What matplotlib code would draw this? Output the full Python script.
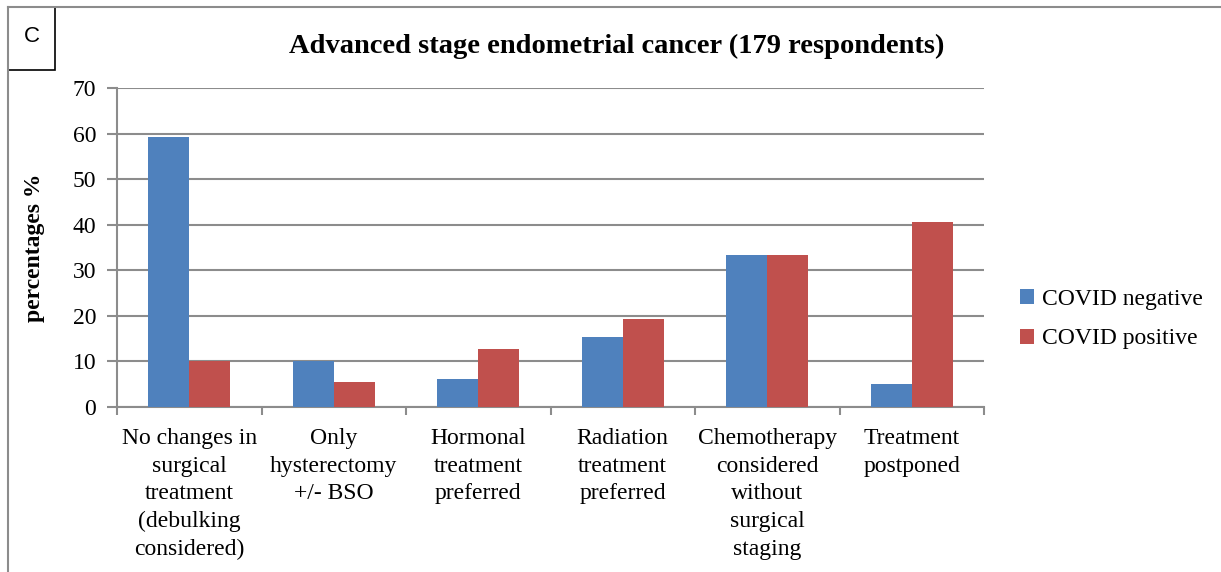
import numpy as np
import matplotlib
matplotlib.use("Agg")
import matplotlib.pyplot as plt
from matplotlib.patches import Rectangle
from matplotlib.lines import Line2D

plt.rcParams['font.family'] = ['Liberation Serif', 'DejaVu Serif']

# data
categories = ["No changes in\nsurgical\ntreatment\n(debulking\nconsidered)",
              "Only\nhysterectomy\n+/- BSO",
              "Hormonal\ntreatment\npreferred",
              "Radiation\ntreatment\npreferred",
              "Chemotherapy\nconsidered\nwithout\nsurgical\nstaging",
              "Treatment\npostponed"]
covid_negative = [59.3, 10.2, 6.1, 15.4, 33.4, 5.0]
covid_positive = [10.2, 5.5, 12.7, 19.4, 33.4, 40.6]
series_names = ["COVID negative", "COVID positive"]
colors = ["#4f81bd", "#c0504d"]
yticks = [0, 10, 20, 30, 40, 50, 60, 70]

fig = plt.figure(figsize=(12.21, 5.72), dpi=100)
ax = fig.add_axes([117/1221, 1 - 407/572, (984 - 117)/1221, (407 - 88)/572])

x = np.arange(len(categories))
w = 0.285
ax.bar(x - w/2, covid_negative, w, color=colors[0], label=series_names[0], zorder=3)
ax.bar(x + w/2, covid_positive, w, color=colors[1], label=series_names[1], zorder=3)

ax.set_xlim(-0.5, len(categories) - 0.5)
ax.set_ylim(0, 70)
ax.set_yticks(yticks)
ax.yaxis.grid(True, color="#8c8c8c", linewidth=1.5, zorder=0)
ax.set_axisbelow(True)
for s in ["top", "right"]:
    ax.spines[s].set_visible(False)
for s in ["left", "bottom"]:
    ax.spines[s].set_color("#8c8c8c")
    ax.spines[s].set_linewidth(1.5)

# x ticks at group boundaries, labels centered
ax.set_xticks(np.arange(len(categories) + 1) - 0.5)
ax.set_xticklabels([])
ax.set_xticks(x, minor=True)
ax.set_xticklabels(categories, minor=True, fontsize=17, linespacing=1.42, va="top")
ax.tick_params(axis="x", which="major", length=6, width=1.5, color="#8c8c8c")
ax.tick_params(axis="x", which="minor", length=0, pad=15)
ax.tick_params(axis="y", length=7, width=1.5, color="#8c8c8c", labelsize=17, pad=8)

ax.set_ylabel("percentages %", fontsize=17, fontweight="bold", labelpad=20)
fig.text(617/1221, 1 - 46/572, "Advanced stage endometrial cancer (179 respondents)",
         ha="center", va="center", fontsize=20.5, fontweight="bold")

ax.legend(loc="center left", bbox_to_anchor=(999/1221, 1 - 319/572),
          bbox_transform=fig.transFigure, frameon=False, fontsize=17,
          handlelength=0.6, handleheight=0.6, handletextpad=0.3, labelspacing=0.8)

# outer frame and panel box
fig.add_artist(Line2D([8/1221, 1], [1 - 7/572, 1 - 7/572], color="#8c8c8c", lw=1.5,
                      transform=fig.transFigure))
fig.add_artist(Line2D([8/1221, 8/1221], [1 - 7/572, 0], color="#8c8c8c", lw=1.5,
                      transform=fig.transFigure))
fig.add_artist(Rectangle((8/1221, 1 - 70/572), 47/1221, 63/572, fill=False,
                         edgecolor="black", lw=1.2, transform=fig.transFigure))
fig.text(32/1221, 1 - 36/572, "C", ha="center", va="center", fontsize=16,
         family=["Liberation Sans", "DejaVu Sans"])

fig.savefig("out.png", dpi=100)
